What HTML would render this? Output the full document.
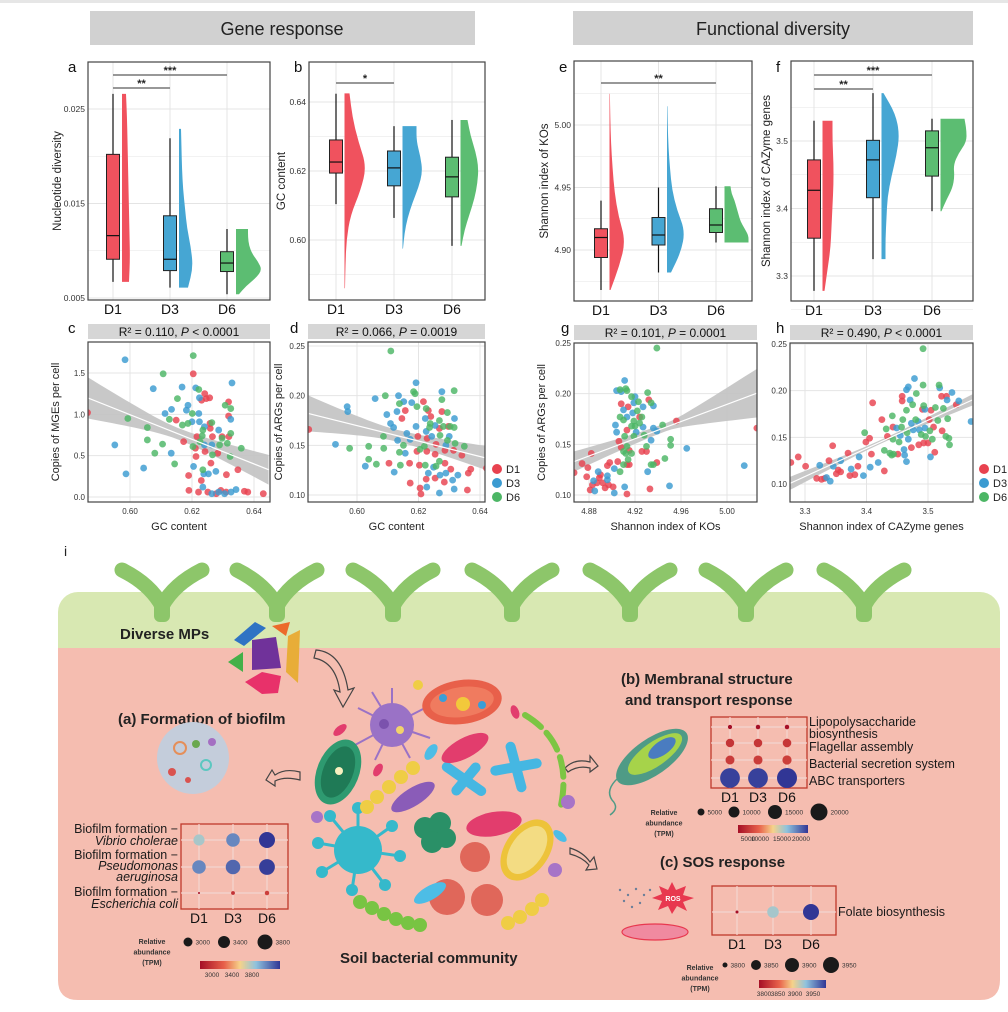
<!DOCTYPE html>
<html><head><meta charset="utf-8"><style>
html,body{margin:0;padding:0;background:#fff}
svg{display:block;font-family:"Liberation Sans",Arial,sans-serif}
</style></head><body>
<svg id="fig" xmlns="http://www.w3.org/2000/svg" width="1008" height="1012" viewBox="0 0 1008 1012">
<rect x="0" y="0" width="1008" height="1012" fill="#fff"/>
<rect x="0" y="0" width="1008" height="3" fill="#e6e6e6"/>
<g>
<rect x="90" y="11" width="385" height="34" fill="#d1d1d1"/>
<text x="282" y="35" font-size="18" text-anchor="middle" fill="#222">Gene response</text></g>
<g>
<rect x="573" y="11" width="400" height="34" fill="#d1d1d1"/>
<text x="773" y="35" font-size="18" text-anchor="middle" fill="#222">Functional diversity</text></g>

<!-- illustration panel i -->
<g id="illus">
<text x="64" y="556" font-size="14" fill="#222">i</text>
<rect x="58" y="592" width="942" height="80" rx="20" fill="#d8e8b2"/>
<path d="M58 648 H1000 V980 Q1000 1000 980 1000 H78 Q58 1000 58 980 Z" fill="#f5bdb0"/>
<g id="plants"></g>
<text x="120" y="639" font-size="15" font-weight="bold" fill="#222">Diverse MPs</text>
<g>
<polygon points="234,640 255,622 266,628 244,646" fill="#2f73c4"/>
<polygon points="252,640 276,637 281,668 252,670" fill="#70329a"/>
<polygon points="272,626 290,622 286,636" fill="#ec6a2a"/>
<polygon points="288,636 300,630 298,683 286,672" fill="#e8ad38"/>
<polygon points="228,662 243,652 243,672" fill="#44b049"/>
<polygon points="245,682 262,672 281,676 278,693 262,694" fill="#e8316a"/>
</g>
<g fill="none" stroke="#444" stroke-width="1.2">
<path d="M316 650 Q342 652 348 690 L354 688 L343 707 L334 690 L340 692 Q336 662 314 658 Z"/>
<path d="M300 772 Q285 768 275 775 L272 770 L266 780 L275 786 L275 781 Q285 776 300 780 Z"/>
<path d="M565 768 Q575 758 590 762 L590 756 L598 766 L590 772 L590 768 Q578 765 568 772 Z"/>
<path d="M570 848 Q583 852 590 862 L594 857 L597 869 L586 870 L589 865 Q582 857 570 854 Z"/>
</g>
<text x="118" y="724" font-size="15" font-weight="bold" fill="#222">(a) Formation of biofilm</text>
<g>
<circle cx="193" cy="758" r="36" fill="#c4cddb"/>
<circle cx="180" cy="748" r="6" fill="none" stroke="#e58f5a" stroke-width="2"/>
<circle cx="206" cy="765" r="5" fill="none" stroke="#5cc7c0" stroke-width="2"/>
<circle cx="196" cy="744" r="4" fill="#6aa84f"/>
<circle cx="172" cy="772" r="4" fill="#d9534f"/>
<circle cx="212" cy="742" r="4" fill="#a46fc2"/>
<circle cx="188" cy="780" r="3" fill="#d9534f"/>
</g>
<g>
<g><g stroke="#9a72c6" stroke-width="2"><line x1="392" y1="725" x2="392" y2="688"/><line x1="392" y1="725" x2="425" y2="708"/><line x1="392" y1="725" x2="430" y2="738"/><line x1="392" y1="725" x2="410" y2="758"/><line x1="392" y1="725" x2="375" y2="760"/><line x1="392" y1="725" x2="355" y2="745"/><line x1="392" y1="725" x2="358" y2="708"/><line x1="392" y1="725" x2="372" y2="692"/></g><circle cx="392" cy="725" r="22" fill="#9a72c6"/><circle cx="384" cy="724" r="5" fill="#7b52ad"/><circle cx="400" cy="730" r="4" fill="#f2d36b"/></g>
<g><ellipse cx="462" cy="702" rx="40" ry="22" fill="#e8604a" transform="rotate(-8 462 702)"/><ellipse cx="462" cy="702" rx="32" ry="15" fill="#f07b5f" transform="rotate(-8 462 702)"/><circle cx="463" cy="704" r="7" fill="#f2c93b"/><circle cx="443" cy="698" r="4" fill="#3a9ed8"/><circle cx="482" cy="705" r="4" fill="#3a9ed8"/></g>
<g><ellipse cx="338" cy="772" rx="21" ry="34" fill="#2e9a70" transform="rotate(22 338 772)"/><ellipse cx="338" cy="772" rx="15" ry="27" fill="#1f7a56" transform="rotate(22 338 772)"/><circle cx="339" cy="771" r="4" fill="#f8f0c0"/></g>
<g fill="#45b7e2"><rect x="438" y="774" width="52" height="10" rx="5" transform="rotate(35 464 779)"/><rect x="446" y="774" width="40" height="10" rx="5" transform="rotate(-50 466 779)"/><rect x="490" y="762" width="52" height="10" rx="5" transform="rotate(-10 516 767)"/><rect x="490" y="762" width="52" height="10" rx="5" transform="rotate(75 516 767)"/></g>
<ellipse cx="465" cy="748" rx="26" ry="10" fill="#e23d6d" transform="rotate(-28 465 748)"/>
<ellipse cx="494" cy="824" rx="28" ry="12" fill="#e23d6d" transform="rotate(-10 494 824)"/>
<ellipse cx="413" cy="797" rx="25" ry="9" fill="#8a5cb8" transform="rotate(-32 413 797)"/>
<g fill="#2a9067"><circle cx="425" cy="828" r="11"/><circle cx="440" cy="823" r="11"/><circle cx="432" cy="842" r="11"/><circle cx="446" cy="838" r="10"/></g>
<g><g stroke="#35b9cb" stroke-width="3"><line x1="358" y1="850" x2="358" y2="808"/><line x1="358" y1="850" x2="392" y2="826"/><line x1="358" y1="850" x2="400" y2="856"/><line x1="358" y1="850" x2="385" y2="885"/><line x1="358" y1="850" x2="352" y2="890"/><line x1="358" y1="850" x2="322" y2="872"/><line x1="358" y1="850" x2="318" y2="843"/><line x1="358" y1="850" x2="330" y2="816"/></g><circle cx="358" cy="850" r="24" fill="#35b9cb"/><g fill="#35b9cb"><circle cx="358" cy="808" r="6"/><circle cx="392" cy="826" r="6"/><circle cx="400" cy="856" r="6"/><circle cx="385" cy="885" r="6"/><circle cx="352" cy="890" r="6"/><circle cx="322" cy="872" r="6"/><circle cx="318" cy="843" r="6"/><circle cx="330" cy="816" r="6"/></g></g>
<g><ellipse cx="527" cy="850" rx="22" ry="34" fill="#edc33a" transform="rotate(35 527 850)"/><ellipse cx="527" cy="850" rx="16" ry="27" fill="#f3dc83" transform="rotate(35 527 850)"/></g>
<g fill="#e0675a"><circle cx="475" cy="857" r="15"/><circle cx="447" cy="897" r="18"/><circle cx="487" cy="900" r="16"/></g>
<g fill="#78c443"><circle cx="360" cy="902" r="7"/><circle cx="372" cy="908" r="7"/><circle cx="384" cy="914" r="7"/><circle cx="396" cy="919" r="7"/><circle cx="408" cy="923" r="7"/><circle cx="420" cy="925" r="7"/></g>
<g fill="#efcd45"><circle cx="367" cy="807" r="7"/><circle cx="377" cy="797" r="7"/><circle cx="389" cy="787" r="7"/><circle cx="401" cy="777" r="7"/><circle cx="413" cy="768" r="7"/><circle cx="508" cy="923" r="7"/><circle cx="520" cy="917" r="7"/><circle cx="532" cy="909" r="7"/><circle cx="542" cy="900" r="7"/></g>
<g fill="none" stroke="#7cc543" stroke-width="6" stroke-linecap="round" stroke-dasharray="20 8"><path d="M525 715 Q575 745 560 810"/></g>
<g><circle cx="317" cy="817" r="6" fill="#a774c7"/><circle cx="568" cy="802" r="7" fill="#a774c7"/><circle cx="555" cy="870" r="7" fill="#a774c7"/><circle cx="418" cy="685" r="5" fill="#efcd45"/><ellipse cx="430" cy="893" rx="18" ry="7" fill="#4dbde6" transform="rotate(-30 430 893)"/><ellipse cx="431" cy="752" rx="9" ry="5" fill="#4dbde6" transform="rotate(-55 431 752)"/><ellipse cx="340" cy="730" rx="8" ry="4" fill="#e23d6d" transform="rotate(-40 340 730)"/><ellipse cx="378" cy="770" rx="7" ry="4" fill="#e23d6d" transform="rotate(-60 378 770)"/><ellipse cx="515" cy="712" rx="7" ry="4" fill="#e23d6d" transform="rotate(70 515 712)"/><ellipse cx="560" cy="836" rx="8" ry="4" fill="#4dbde6" transform="rotate(40 560 836)"/></g>
</g>
<text x="340" y="963" font-size="15" font-weight="bold" fill="#222">Soil bacterial community</text>
<text x="621" y="684" font-size="15" font-weight="bold" fill="#222">(b) Membranal structure</text>
<text x="625" y="705" font-size="15" font-weight="bold" fill="#222">and transport response</text>
<g><ellipse cx="652" cy="757" rx="42" ry="18" fill="#4f9b86" transform="rotate(-35 652 757)"/><ellipse cx="655" cy="754" rx="32" ry="12" fill="#a6d34a" transform="rotate(-35 655 754)"/><ellipse cx="662" cy="748" rx="16" ry="7" fill="#4a7cc0" transform="rotate(-35 662 748)"/><path d="M618 778 Q605 790 612 800 Q620 808 610 815" fill="none" stroke="#4f9b86" stroke-width="1.5"/></g>
<text x="660" y="867" font-size="15" font-weight="bold" fill="#222">(c) SOS response</text>
<g>
<polygon points="672,882 676,890 686,886 683,895 694,898 683,902 687,911 677,906 672,914 668,906 658,910 662,901 652,898 662,894 659,886 668,890" fill="#e8384f"/>
<text x="673" y="901" font-size="7" font-weight="bold" fill="#fff" text-anchor="middle">ROS</text>
<ellipse cx="655" cy="932" rx="33" ry="8" fill="#f08aa0" stroke="#e8384f" stroke-width="1.2"/>
<g fill="#6b7f9a"><circle cx="620" cy="890" r="1.2"/><circle cx="628" cy="895" r="1.2"/><circle cx="636" cy="889" r="1.2"/><circle cx="644" cy="895" r="1.2"/><circle cx="624" cy="901" r="1.2"/><circle cx="640" cy="903" r="1.2"/><circle cx="650" cy="890" r="1.2"/><circle cx="632" cy="907" r="1.2"/></g>
</g>
</g>

<g id="charts"></g>
</svg>
<script>
// ---------- DATA ----------
const groups = ["D1","D3","D6"];
// box stats: [whiskerLow, Q1, median, Q3, whiskerHigh]
const aBox = [[0.0067,0.0091,0.0116,0.0202,0.0266],[0.0061,0.0079,0.0091,0.0137,0.0219],[0.0054,0.0078,0.0087,0.0099,0.0123]];
const aViolinRange = [[0.0067,0.0266],[0.0061,0.0229],[0.0054,0.0123]];
const aDensity = [[7,8,7.5,7,6.5,6,5.5,5,4],[9,14,12,8,6,4,3,2.5,2],[3,10,20,26,22,16,13,12,12]];
const bBox = [[0.6104,0.6194,0.6226,0.6290,0.6424],[0.6064,0.6157,0.6209,0.6258,0.6330],[0.5983,0.6125,0.6183,0.6240,0.6348]];
const bViolinRange = [[0.586,0.6425],[0.5975,0.633],[0.5983,0.6348]];
const bDensity = [[0.5,1,2,6,16,22,14,8,5],[0.5,2,5,10,16,20,18,14,14],[1,4,9,14,17,18,15,10,7]];
const eBox = [[4.868,4.894,4.910,4.917,4.9395],[4.882,4.904,4.912,4.926,4.950],[4.906,4.914,4.920,4.933,4.951]];
const eViolinRange = [[4.868,5.025],[4.882,5.015],[4.906,4.951]];
const eDensity = [[1,10,16,9,5,3,1.5,0.8,0.4],[4,14,18,10,5,3,1.5,0.8,0.4],[24,24,20,16,14,12,10,7,6]];
const fBox = [[3.278,3.356,3.427,3.472,3.530],[3.325,3.416,3.472,3.501,3.571],[3.396,3.448,3.490,3.515,3.533]];
const fViolinRange = [[3.278,3.53],[3.325,3.571],[3.396,3.533]];
const fDensity = [[2,5,8,9,10,11,11,10,10],[4,4,5,6,10,15,18,14,2],[1,6,12,14,13,18,26,26,24]];
const aTicks = ["0.005","0.015","0.025"], bTicks = ["0.60","0.62","0.64"], eTicks = ["4.90","4.95","5.00"], fTicks = ["3.3","3.4","3.5"];

const cD1 = [[.5863,1.02],[.6149,.93],[.6173,.67],[.6204,1.49],[.6189,.26],[.6190,.08],[.6216,.73],[.6211,.59],[.6213,.49],[.6231,1.17],[.6241,1.25],[.6246,1.19],[.6257,1.20],[.6242,.55],[.6230,.20],[.6221,.06],[.6251,.06],[.6258,.89],[.6259,.83],[.6266,.73],[.6261,.41],[.6283,.53],[.6297,.73],[.6293,.08],[.6318,1.15],[.6318,.98],[.6311,.27],[.6319,.73],[.6348,.33],[.6310,.06],[.6369,.07],[.6380,.06],[.6430,.04],[.6278,.04]];
const cD3 = [[.5984,1.66],[.5951,.63],[.5987,.28],[.6075,1.31],[.6044,.35],[.6113,1.01],[.6134,1.06],[.6133,.53],[.6168,1.33],[.6182,1.05],[.6187,1.11],[.6200,.91],[.6212,1.32],[.6205,.37],[.6224,1.20],[.6222,1.01],[.6224,.91],[.6240,.85],[.6240,.63],[.6238,.28],[.6235,.12],[.6253,.28],[.6264,.63],[.6264,.04],[.6277,.31],[.6286,.81],[.6286,.06],[.6325,.94],[.6329,1.38],[.6326,.06],[.6342,.09],[.6305,.04]];
const cD6 = [[.5993,.95],[.6107,1.49],[.6056,.84],[.6056,.69],[.6080,.53],[.6105,.64],[.6127,.94],[.6144,.40],[.6153,1.19],[.6169,.87],[.6187,.89],[.6204,1.71],[.6201,1.01],[.6203,.61],[.6222,1.30],[.6235,.81],[.6233,.74],[.6226,.67],[.6235,.33],[.6264,.90],[.6266,.51],[.6289,.63],[.6297,.71],[.6307,1.11],[.6325,1.07],[.6314,.65],[.6325,.77],[.6323,.49],[.6359,.59]];
const dD1 = [[.5843,.166],[.6104,.132],[.6157,.185],[.6146,.177],[.6171,.132],[.6173,.112],[.6198,.159],[.6195,.144],[.6203,.130],[.6205,.107],[.6208,.101],[.6216,.194],[.6232,.185],[.6228,.157],[.6227,.144],[.6225,.116],[.6240,.179],[.6257,.151],[.6254,.141],[.6254,.117],[.6268,.167],[.6276,.184],[.6286,.132],[.6286,.145],[.6284,.113],[.6297,.169],[.6305,.126],[.6314,.145],[.6341,.140],[.6362,.122],[.6359,.105],[.6370,.126],[.6421,.127]];
const dD3 = [[.5968,.189],[.5970,.184],[.5930,.151],[.6027,.129],[.6059,.197],[.6097,.181],[.6109,.172],[.6119,.168],[.6121,.123],[.6130,.184],[.6132,.155],[.6135,.200],[.6152,.194],[.6157,.142],[.6162,.162],[.6173,.156],[.6178,.193],[.6192,.213],[.6192,.169],[.6222,.177],[.6225,.164],[.6227,.108],[.6232,.122],[.6243,.159],[.6254,.170],[.6249,.128],[.6270,.120],[.6268,.102],[.6276,.204],[.6289,.122],[.6289,.150],[.6300,.159],[.6311,.115],[.6317,.177],[.6316,.106],[.6328,.120]];
const dD6 = [[.5976,.147],[.6038,.136],[.6063,.131],[.6038,.149],[.6092,.200],[.6086,.159],[.6087,.147],[.6110,.245],[.6138,.143],[.6141,.130],[.6138,.192],[.6151,.150],[.6184,.204],[.6189,.202],[.6195,.189],[.6205,.146],[.6219,.149],[.6225,.187],[.6236,.168],[.6222,.130],[.6238,.172],[.6257,.129],[.6268,.175],[.6270,.160],[.6268,.134],[.6276,.196],[.6281,.169],[.6294,.183],[.6294,.155],[.6303,.169],[.6316,.205],[.6316,.168],[.6319,.152],[.6349,.149]];
const gD1 = [[4.867,.122],[4.874,.131],[4.879,.127],[4.882,.141],[4.878,.118],[4.881,.105],[4.883,.110],[4.887,.112],[4.889,.117],[4.890,.120],[4.892,.112],[4.894,.107],[4.896,.129],[4.898,.132],[4.897,.110],[4.901,.108],[4.905,.133],[4.913,.101],[4.908,.190],[4.914,.187],[4.906,.153],[4.908,.147],[4.913,.164],[4.913,.130],[4.915,.130],[4.915,.144],[4.924,.177],[4.926,.143],[4.930,.143],[4.932,.194],[4.933,.106],[4.939,.132],[4.956,.173],[5.026,.166]];
const gD3 = [[4.885,.104],[4.884,.114],[4.888,.123],[4.896,.115],[4.896,.119],[4.902,.102],[4.902,.126],[4.911,.108],[4.904,.203],[4.911,.213],[4.908,.202],[4.910,.184],[4.913,.177],[4.903,.169],[4.904,.162],[4.920,.197],[4.919,.191],[4.918,.181],[4.921,.162],[4.927,.187],[4.927,.167],[4.936,.188],[4.931,.123],[4.936,.166],[4.934,.154],[4.939,.163],[4.950,.109],[4.965,.146],[5.015,.129]];
const gD6 = [[4.907,.123],[4.907,.204],[4.912,.205],[4.913,.203],[4.907,.177],[4.910,.174],[4.910,.143],[4.912,.141],[4.911,.158],[4.913,.148],[4.914,.135],[4.910,.130],[4.917,.141],[4.917,.197],[4.919,.173],[4.917,.168],[4.920,.168],[4.919,.158],[4.922,.183],[4.923,.192],[4.924,.171],[4.926,.177],[4.928,.159],[4.930,.148],[4.931,.201],[4.934,.191],[4.936,.130],[4.934,.130],[4.939,.245],[4.944,.169],[4.946,.136],[4.951,.155],[4.951,.149]];
const hD1 = [[3.277,.123],[3.289,.129],[3.301,.119],[3.319,.106],[3.327,.105],[3.332,.106],[3.339,.125],[3.345,.141],[3.351,.111],[3.354,.115],[3.358,.113],[3.370,.133],[3.373,.109],[3.381,.110],[3.386,.119],[3.399,.145],[3.405,.149],[3.408,.132],[3.410,.187],[3.425,.169],[3.429,.114],[3.434,.151],[3.443,.161],[3.451,.132],[3.458,.194],[3.458,.189],[3.473,.139],[3.485,.142],[3.491,.180],[3.493,.144],[3.500,.144],[3.502,.169],[3.505,.179],[3.509,.161],[3.511,.134],[3.522,.194],[3.523,.157],[3.530,.194],[3.546,.185]];
const hD3 = [[3.324,.120],[3.335,.107],[3.341,.103],[3.346,.119],[3.358,.125],[3.375,.116],[3.388,.129],[3.395,.109],[3.406,.118],[3.419,.123],[3.449,.160],[3.455,.152],[3.461,.137],[3.462,.131],[3.465,.201],[3.468,.148],[3.465,.124],[3.468,.204],[3.471,.190],[3.473,.165],[3.476,.158],[3.478,.213],[3.484,.167],[3.486,.158],[3.495,.180],[3.495,.160],[3.504,.129],[3.519,.203],[3.531,.190],[3.539,.198],[3.550,.189],[3.570,.167]];
const hD6 = [[3.397,.155],[3.432,.159],[3.429,.136],[3.438,.133],[3.441,.131],[3.442,.173],[3.443,.148],[3.444,.132],[3.453,.145],[3.457,.161],[3.459,.169],[3.465,.179],[3.466,.155],[3.475,.185],[3.480,.169],[3.481,.197],[3.489,.153],[3.492,.245],[3.492,.206],[3.493,.184],[3.496,.151],[3.503,.157],[3.507,.148],[3.512,.182],[3.516,.168],[3.518,.206],[3.525,.181],[3.529,.151],[3.532,.170],[3.535,.142],[3.534,.149]];
// regression endpoints [x0,x1],[y0,y1]; CI half widths [left, mid, right]
const cReg = [[0.5863,0.6447],[1.2,0.33]], cCI = [0.25,0.07,0.18];
const dReg = [[0.5843,0.6416],[0.182,0.1375]], dCI = [0.018,0.006,0.012];
const gReg = [[4.867,5.026],[0.133,0.2005]], gCI = [0.01,0.004,0.024];
const hReg = [[3.2757,3.5719],[0.1007,0.190]], hCI = [0.007,0.002,0.006];
const cXTicks=["0.60","0.62","0.64"], cYTicks=["0.0","0.5","1.0","1.5"];
const dXTicks=["0.60","0.62","0.64"], dYTicks=["0.10","0.15","0.20","0.25"];
const gXTicks=["4.88","4.92","4.96","5.00"], gYTicks=["0.10","0.15","0.20","0.25"];
const hXTicks=["3.3","3.4","3.5"], hYTicks=["0.10","0.15","0.20","0.25"];
// bubble charts (TPM)
const biofilmPaths = ["Vibrio","Pseudomonas","Escherichia"];
const biofilmTPM = [[3500,3700,3900],[3700,3780,3880],[2750,2900,2950]];
const membranePaths = ["Lipopolysaccharide biosynthesis","Flagellar assembly","Bacterial secretion system","ABC transporters"];
const membraneTPM = [[1000,1100,1100],[4000,4100,4200],[4500,4600,4800],[22000,22000,22500]];
const sosPaths = ["Folate biosynthesis"];
const sosTPM = [[3800,3905,3960]];

// ---------- HELPERS ----------
const NS="http://www.w3.org/2000/svg";
const root=document.getElementById('charts');
function mk(tag,attrs,parent){const e=document.createElementNS(NS,tag);for(const k in attrs)e.setAttribute(k,attrs[k]);(parent||root).appendChild(e);return e;}
function lin(d0,d1,r0,r1){return v=>r0+(v-d0)/(d1-d0)*(r1-r0);}
const FILL=["#f0525e","#46a6d3","#5cbd72"], PT=["#e8424f","#3b9bd1","#4cb665"];
function txt(x,y,s,attrs,parent){const t=mk('text',Object.assign({x:x,y:y,'font-size':9,fill:'#333'},attrs||{}),parent);t.textContent=s;return t;}

function frame(g,x0,y0,x1,y1){
  const r=mk('rect',{x:x0,y:y0,width:x1-x0,height:y1-y0,fill:'none',stroke:'#444','stroke-width':1.2},g);
  
  
}
function hgrid(g,x0,x1,y,w){const l=mk('line',{x1:x0,x2:x1,y1:y,y2:y,stroke:'#e4e4e4','stroke-width':w},g);}
function vgrid(g,y0,y1,x,w){const l=mk('line',{x1:x,x2:x,y1:y0,y2:y1,stroke:'#e4e4e4','stroke-width':w},g);}

function boxPanel(id,box,vr,dens,ticks,cfg){
  const g=mk('g',{});
  
  
  const y=lin(cfg.d0,cfg.d1,cfg.p0,cfg.p1);
  const x=lin(0,2,cfg.c0,cfg.c2);
  cfg.minor.forEach(v=>hgrid(g,cfg.x0,cfg.x1,y(v),0.6));
  ticks.forEach(t=>hgrid(g,cfg.x0,cfg.x1,y(parseFloat(t)),1));
  groups.forEach((gr,i)=>vgrid(g,cfg.y0,cfg.y1,x(i),1));
  groups.forEach((gr,i)=>{
    const cx=x(i), s=box[i];
    const d=dens[i], lo=vr[i][0], hi=vr[i][1], vx=cx+cfg.voff;
    let pts=[];
    d.forEach((w,k)=>{pts.push([vx+w*cfg.vs, y(lo+(hi-lo)*k/(d.length-1))]);});
    let p='M'+vx+' '+y(lo)+' L'+pts[0][0]+' '+pts[0][1];
    for(let k=1;k<pts.length;k++){const mx=(pts[k-1][0]+pts[k][0])/2,my=(pts[k-1][1]+pts[k][1])/2;p+=' Q'+pts[k-1][0]+' '+pts[k-1][1]+' '+mx+' '+my;}
    p+=' L'+pts[pts.length-1][0]+' '+pts[pts.length-1][1]+' L'+vx+' '+y(hi)+' Z';
    const v=mk('path',{d:p,fill:FILL[i]},g);
    
    
    const wl=mk('line',{x1:cx,x2:cx,y1:y(s[0]),y2:y(s[4]),stroke:'#111','stroke-width':1.2},g);
    
    
    const bx=mk('rect',{x:cx-6.5,y:y(s[3]),width:13,height:y(s[1])-y(s[3]),fill:FILL[i],stroke:'#222','stroke-width':1},g);
    
    
    const md=mk('line',{x1:cx-6.5,x2:cx+6.5,y1:y(s[2]),y2:y(s[2]),stroke:'#111','stroke-width':1.2},g);
    
    
    const lb=txt(cx,cfg.y1+14,gr,{'font-size':14,'text-anchor':'middle',fill:'#111'},g);
    
    
  });
  ticks.forEach(t=>{const e=txt(cfg.x0-3,y(parseFloat(t))+3,t,{'font-size':8.5,'text-anchor':'end'},g);});
  cfg.sig.forEach(sg=>{
    const l=mk('line',{x1:x(sg[0]),x2:x(sg[1]),y1:sg[2],y2:sg[2],stroke:'#777','stroke-width':1.5},g);
    
    
    const t=txt((x(sg[0])+x(sg[1]))/2,sg[2]-1,sg[3],{'font-size':11,'text-anchor':'middle',fill:'#222','font-weight':'bold'},g);
    
    
  });
  frame(g,cfg.x0,cfg.y0,cfg.x1,cfg.y1);
  const yt=txt(0,0,cfg.title,{'font-size':11.5,'text-anchor':'middle',fill:'#222',transform:'translate('+cfg.tx+','+((cfg.y0+cfg.y1)/2)+') rotate(-90)'},g);
  
  
  const pl=txt(cfg.lx,72,id,{'font-size':15,fill:'#111'},g);
  
  
}

boxPanel('a',aBox,aViolinRange,aDensity,aTicks,{d0:0.005,d1:0.025,p0:298,p1:109,c0:113,c2:227,x0:88,x1:270,y0:62,y1:300,voff:9,vs:1,minor:[0.010,0.020],sig:[[0,2,75,'***'],[0,1,88,'**']],title:'Nucleotide diversity',tx:61,lx:68});
boxPanel('b',bBox,bViolinRange,bDensity,bTicks,{d0:0.60,d1:0.64,p0:240,p1:102,c0:336,c2:452,x0:309,x1:485,y0:62,y1:300,voff:8.5,vs:1,minor:[0.59,0.61,0.63],sig:[[0,1,83,'*']],title:'GC content',tx:285,lx:294});
boxPanel('e',eBox,eViolinRange,eDensity,eTicks,{d0:4.90,d1:5.00,p0:250,p1:125,c0:601,c2:716,x0:574,x1:752,y0:61,y1:301,voff:8.5,vs:1,minor:[4.875,4.925,4.975,5.025],sig:[[0,2,83,'**']],title:'Shannon index of KOs',tx:548,lx:559});
boxPanel('f',fBox,fViolinRange,fDensity,fTicks,{d0:3.3,d1:3.5,p0:276,p1:141,c0:814,c2:932,x0:791,x1:973,y0:61,y1:301,voff:8.5,vs:1,minor:[3.25,3.35,3.45,3.55],sig:[[0,2,75,'***'],[0,1,89,'**']],title:'Shannon index of CAZyme genes',tx:770,lx:776});

let clipN=0;
function scatterPanel(id,series,reg,ci,xt,yt,cfg){
  const g=mk('g',{});
  
  
  const x=lin(cfg.xd0,cfg.xd1,cfg.xp0,cfg.xp1), y=lin(cfg.yd0,cfg.yd1,cfg.yp0,cfg.yp1);
  const st=mk('rect',{x:cfg.x0,y:cfg.y0-18,width:cfg.x1-cfg.x0,height:15,fill:'#d6d6d6'},g);
  
  
  const t=txt((cfg.x0+cfg.x1)/2,cfg.y0-6,'',{'font-size':12,'text-anchor':'middle',fill:'#111'},g);
  
  
  const a=mk('tspan',{},t);a.textContent='R² = '+cfg.r2+', ';
  const b=mk('tspan',{'font-style':'italic'},t);b.textContent='P';
  const c=mk('tspan',{},t);c.textContent=' '+cfg.p;
  const cid='clip'+(clipN++);
  const cp=mk('clipPath',{id:cid},g);mk('rect',{x:cfg.x0,y:cfg.y0,width:cfg.x1-cfg.x0,height:cfg.y1-cfg.y0},cp);
  const inner=mk('g',{'clip-path':'url(#'+cid+')'},g);
  
  
  xt.forEach(v=>vgrid(inner,cfg.y0,cfg.y1,x(parseFloat(v)),1));
  yt.forEach(v=>hgrid(inner,cfg.x0,cfg.x1,y(parseFloat(v)),1));
  const X0=reg[0][0],X1=reg[0][1],xm=(X0+X1)/2;
  const fy=v=>reg[1][0]+(v-X0)/(X1-X0)*(reg[1][1]-reg[1][0]);
  const hw=v=>{const e=v<xm?ci[0]:ci[2];const u=(v-xm)/(X1-xm);return Math.sqrt(ci[1]*ci[1]+(e*e-ci[1]*ci[1])*u*u);};
  let up=[],dn=[];
  for(let k=0;k<=30;k++){const v=X0+(X1-X0)*k/30;up.push(x(v)+','+y(fy(v)+hw(v)));dn.unshift(x(v)+','+y(fy(v)-hw(v)));}
  const band=mk('polygon',{points:up.concat(dn).join(' '),fill:'#c2c2c2','fill-opacity':0.9},inner);
  
  
  series.forEach((s,i)=>s.forEach(p=>{
    const ci2=mk('circle',{cx:x(p[0]),cy:y(p[1]),r:3.4,fill:PT[i],'fill-opacity':0.82},inner);
    
    
  }));
  const rl=mk('line',{x1:x(X0),y1:y(reg[1][0]),x2:x(X1),y2:y(reg[1][1]),stroke:'#fff','stroke-width':1.2},inner);
  
  
  frame(g,cfg.x0,cfg.y0,cfg.x1,cfg.y1);
  xt.forEach(v=>{const e=txt(x(parseFloat(v)),cfg.y1+12,v,{'font-size':8,'text-anchor':'middle'},g);});
  yt.forEach(v=>{const e=txt(cfg.x0-3,y(parseFloat(v))+3,v,{'font-size':8,'text-anchor':'end'},g);});
  const xtl=txt((cfg.x0+cfg.x1)/2,cfg.y1+28,cfg.xtitle,{'font-size':11,'text-anchor':'middle',fill:'#222'},g);
  
  
  if(cfg.ytitle){const ytl=txt(0,0,cfg.ytitle,{'font-size':11,'text-anchor':'middle',fill:'#222',transform:'translate('+cfg.tx+','+((cfg.y0+cfg.y1)/2)+') rotate(-90)'},g);
  
  }
  const pl=txt(cfg.lx,333,id,{'font-size':15,fill:'#111'},g);
  
  
  if(cfg.leg){groups.forEach((gr,i)=>{
    const lc=mk('circle',{cx:cfg.leg,cy:469+i*14,r:5,fill:PT[i]},g);
    
    
    const lt=txt(cfg.leg+9,473+i*14,gr,{'font-size':11,fill:'#222'},g);
    
    
  });}
}
scatterPanel('c',[cD1,cD3,cD6],cReg,cCI,cXTicks,cYTicks,{xd0:.60,xd1:.64,xp0:130,xp1:254,yd0:0,yd1:1.5,yp0:497,yp1:373,x0:88,x1:270,y0:342,y1:502,r2:'0.110',p:'< 0.0001',xtitle:'GC content',ytitle:'Copies of MGEs per cell',tx:59,lx:68});
scatterPanel('d',[dD1,dD3,dD6],dReg,dCI,dXTicks,dYTicks,{xd0:.60,xd1:.64,xp0:357,xp1:480,yd0:.10,yd1:.25,yp0:495,yp1:346,x0:308,x1:485,y0:342,y1:502,r2:'0.066',p:'= 0.0019',xtitle:'GC content',ytitle:'Copies of ARGs per cell',tx:282,lx:290,leg:497});
scatterPanel('g',[gD1,gD3,gD6],gReg,gCI,gXTicks,gYTicks,{xd0:4.88,xd1:5.00,xp0:589,xp1:727,yd0:.10,yd1:.25,yp0:495,yp1:343,x0:574,x1:757,y0:343,y1:502,r2:'0.101',p:'= 0.0001',xtitle:'Shannon index of KOs',ytitle:'Copies of ARGs per cell',tx:545,lx:561});
scatterPanel('h',[hD1,hD3,hD6],hReg,hCI,hXTicks,hYTicks,{xd0:3.3,xd1:3.5,xp0:805,xp1:928,yd0:.10,yd1:.25,yp0:484,yp1:344,x0:790,x1:973,y0:343,y1:502,r2:'0.490',p:'< 0.0001',xtitle:'Shannon index of CAZyme genes',tx:0,lx:776,leg:984});

// plants
const plantX=[162,277,393,512,630,746,864];
const pg=document.getElementById('plants');
plantX.forEach(px=>{
  const p=mk('path',{d:'M'+(px-40)+' 570 Q'+(px-12)+' 584 '+px+' 606 Q'+(px+12)+' 584 '+(px+40)+' 570',fill:'none',stroke:'#8dc66a','stroke-width':15,'stroke-linecap':'round','stroke-linejoin':'round'},pg);
  
  
  const s=mk('rect',{x:px-8,y:598,width:16,height:24,rx:6,fill:'#8dc66a'},pg);
  
  
});

// bubble charts
const STOPS=[[0,[165,15,38]],[0.3,[232,96,74]],[0.5,[246,210,138]],[0.7,[143,194,221]],[1,[49,54,149]]];
function cmap(t){t=Math.max(0,Math.min(1,t));for(let k=1;k<STOPS.length;k++){if(t<=STOPS[k][0]){const a=STOPS[k-1],b=STOPS[k],u=(t-a[0])/(b[0]-a[0]);return 'rgb('+a[1].map((c,j)=>Math.round(c+(b[1][j]-c)*u)).join(',')+')';}}return 'rgb(49,54,149)';}
function gradDef(id){const defs=mk('defs',{});const lg=mk('linearGradient',{id:id},defs);STOPS.forEach(s=>mk('stop',{offset:s[0],'stop-color':'rgb('+s[1].join(',')+')'},lg));}
gradDef('cbar');
function bubble(name,vals,cfg){
  const g=mk('g',{});
  
  
  const b=mk('rect',{x:cfg.x0,y:cfg.y0,width:cfg.x1-cfg.x0,height:cfg.y1-cfg.y0,fill:'none',stroke:'#c0392b','stroke-width':1.3},g);
  
  
  cfg.cols.forEach(cx=>vgrid(g,cfg.y0,cfg.y1,cx,1.2));
  cfg.rows.forEach(ry=>hgrid(g,cfg.x0,cfg.x1,ry,1.2));
  g.querySelectorAll('line').forEach(l=>l.setAttribute('stroke','#f2d6d0'));
  vals.forEach((row,i)=>row.forEach((v,j)=>{
    const c=mk('circle',{cx:cfg.cols[j],cy:cfg.rows[i],r:cfg.r(v),fill:cmap((v-cfg.cd0)/(cfg.cd1-cfg.cd0))},g);
    
    
  }));
  groups.forEach((gr,j)=>{const t=txt(cfg.cols[j],cfg.y1+14,gr,{'font-size':14,'text-anchor':'middle',fill:'#111'},g);});
}
bubble('biofilm-bubble-chart',biofilmTPM,{x0:181,x1:288,y0:824,y1:909,cols:[199,233,267],rows:[840,867,893],cd0:2750,cd1:3900,r:v=>1+(v-2750)/1150*7});
bubble('membrane-bubble-chart',membraneTPM,{x0:711,x1:807,y0:717,y1:788,cols:[730,758,787],rows:[727,743,760,778],cd0:1000,cd1:22500,r:v=>10*Math.sqrt(v/22500)});
bubble('sos-bubble-chart',sosTPM,{x0:712,x1:836,y0:886,y1:935,cols:[737,773,811],rows:[912],cd0:3800,cd1:3960,r:v=>1.5+(v-3800)/160*6.5});

function lbl(x,y,s,anchor,italic,name){const t=txt(x,y,s,{'font-size':12.5,'text-anchor':anchor,fill:'#1a1a1a','font-style':italic?'italic':'normal'});}
lbl(178,833,'Biofilm formation −','end',0,'row-label');
lbl(178,845,'Vibrio cholerae','end',1,'row-label-species');
lbl(178,859,'Biofilm formation −','end',0,'row-label');
lbl(178,870,'Pseudomonas','end',1,'row-label-species');
lbl(178,881,'aeruginosa','end',1,'row-label-species');
lbl(178,896,'Biofilm formation −','end',0,'row-label');
lbl(178,908,'Escherichia coli','end',1,'row-label-species');
lbl(809,726,'Lipopolysaccharide','start',0,'row-label');
lbl(809,738,'biosynthesis','start',0,'row-label');
lbl(809,751,'Flagellar assembly','start',0,'row-label');
lbl(809,768,'Bacterial secretion system','start',0,'row-label');
lbl(809,785,'ABC transporters','start',0,'row-label');
lbl(838,916,'Folate biosynthesis','start',0,'row-label');

function legend(name,lx,ly,circ,cb,cbl){
  const g=mk('g',{});
  
  
  ['Relative','abundance','(TPM)'].forEach((s,k)=>txt(lx,ly+k*10.5,s,{'font-size':7,'font-weight':'bold','text-anchor':'middle',fill:'#333'},g));
  circ.forEach(c=>{mk('circle',{cx:c[0],cy:c[1],r:c[2],fill:'#1a1a1a'},g);txt(c[0]+c[2]+3,c[1]+2.5,c[3],{'font-size':6.5,fill:'#333'},g);});
  mk('rect',{x:cb[0],y:cb[1],width:cb[2],height:8,fill:'url(#cbar)'},g);
  cbl.forEach(l=>txt(l[0],cb[1]+16,l[1],{'font-size':6.5,'text-anchor':'middle',fill:'#333'},g));
}
legend('biofilm-legend',152,944,[[188,942,4.5,'3000'],[224,942,6,'3400'],[265,942,7.5,'3800']],[200,961,80],[[212,'3000'],[232,'3400'],[252,'3800']]);
legend('membrane-legend',664,815,[[701,812,3.5,'5000'],[734,812,5.5,'10000'],[775,812,7,'15000'],[819,812,8.5,'20000']],[738,825,70],[[748,'5000'],[760,'10000'],[782,'15000'],[801,'20000']]);
legend('sos-legend',700,970,[[725,965,2.5,'3800'],[756,965,5,'3850'],[792,965,7,'3900'],[831,965,8,'3950']],[759,980,67],[[764,'3800'],[778,'3850'],[795,'3900'],[813,'3950']]);
</script>
</body></html>
